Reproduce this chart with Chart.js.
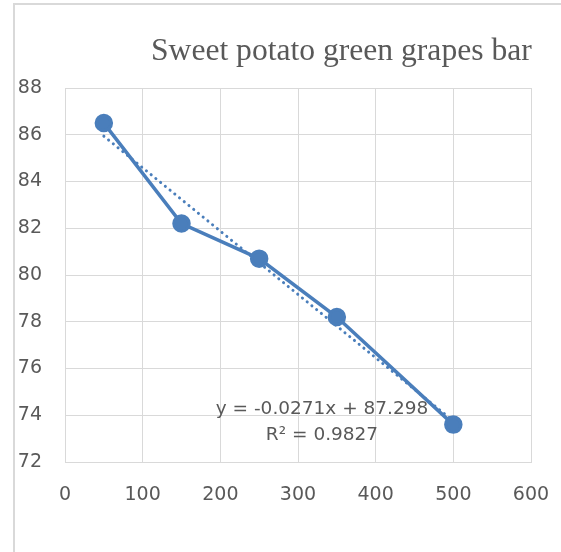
<!DOCTYPE html>
<html>
<head>
<meta charset="utf-8">
<script src="https://cdn.jsdelivr.net/npm/chart.js@4.4.1/dist/chart.umd.min.js"></script>
<style>
html,body{margin:0;padding:0;background:#fff;}
#wrap{position:relative;width:561px;height:552px;}
canvas{display:block;}
</style>
</head>
<body>
<div id="wrap"><canvas id="c" width="561" height="552"></canvas></div>
<script>
// ---- data ----
const xValues = [50, 150, 250, 350, 500];
const yValues = [86.5, 82.2, 80.7, 78.2, 73.6];
const trendX = [50, 500];
const trendY = [85.94, 73.75];
const xTicks = [0, 100, 200, 300, 400, 500, 600];
const yTicks = [72, 74, 76, 78, 80, 82, 84, 86, 88];
const titleText = 'Sweet potato green grapes bar';
const trendLabel = ['y = -0.0271x + 87.298', 'R\u00B2 = 0.9827'];

const points = xValues.map((x, i) => ({x: x, y: yValues[i]}));
const trend = trendX.map((x, i) => ({x: x, y: trendY[i]}));

const BLUE = '#4a7ebb';
const GRID = '#d9d9d9';
const TXT = '#595959';
const TICKFONT = '"DejaVu Sans", sans-serif';

const decor = {
  id: 'decor',
  beforeDraw(chart) {
    const ctx = chart.ctx;
    ctx.save();
    ctx.fillStyle = '#fff';
    ctx.fillRect(0, 0, chart.width, chart.height);
    ctx.strokeStyle = GRID;
    ctx.lineWidth = 2;
    ctx.beginPath();
    ctx.moveTo(14, 552);
    ctx.lineTo(14, 4);
    ctx.lineTo(561, 4);
    ctx.stroke();
    ctx.restore();
  },
  afterDraw(chart) {
    const ctx = chart.ctx;
    ctx.save();
    ctx.fillStyle = TXT;
    ctx.font = '31.6px "Liberation Serif", serif';
    ctx.textAlign = 'left';
    ctx.textBaseline = 'alphabetic';
    ctx.fillText(titleText, 151, 60);
    ctx.font = '18.5px ' + TICKFONT;
    ctx.textAlign = 'center';
    ctx.fillText(trendLabel[0], 322, 414);
    ctx.fillText(trendLabel[1], 322, 440);
    ctx.restore();
  }
};

new Chart(document.getElementById('c'), {
  type: 'scatter',
  data: {
    datasets: [
      {
        data: trend,
        showLine: true,
        borderColor: BLUE,
        borderWidth: 3,
        borderDash: [0.1, 6],
        borderCapStyle: 'round',
        pointRadius: 0,
        order: 2
      },
      {
        data: points,
        showLine: true,
        borderColor: BLUE,
        backgroundColor: BLUE,
        borderWidth: 3.5,
        pointRadius: 7.5,
        pointBackgroundColor: BLUE,
        pointBorderColor: BLUE,
        order: 1
      }
    ]
  },
  options: {
    responsive: false,
    animation: false,
    events: [],
    layout: {padding: {top: 88, right: 30, bottom: 0, left: 0}},
    plugins: {legend: {display: false}, title: {display: false}, tooltip: {enabled: false}},
    scales: {
      x: {
        type: 'linear',
        min: 0, max: 600,
        afterBuildTicks(s) { s.ticks = xTicks.map(v => ({value: v})); },
        afterFit(s) { s.height = 90; s.paddingLeft = 0; s.paddingRight = 0; },
        grid: {color: GRID, lineWidth: 1, drawTicks: false},
        border: {display: true, color: GRID, width: 1},
        ticks: {color: TXT, font: {family: TICKFONT, size: 19}, padding: 22}
      },
      y: {
        type: 'linear',
        min: 72, max: 88,
        afterBuildTicks(s) { s.ticks = yTicks.map(v => ({value: v})); },
        afterFit(s) { s.width = 65; s.paddingTop = 0; s.paddingBottom = 0; },
        grid: {color: GRID, lineWidth: 1, drawTicks: false},
        border: {display: true, color: GRID, width: 1},
        ticks: {color: TXT, font: {family: TICKFONT, size: 19}, padding: 23}
      }
    }
  },
  plugins: [decor]
});
</script>
</body>
</html>
